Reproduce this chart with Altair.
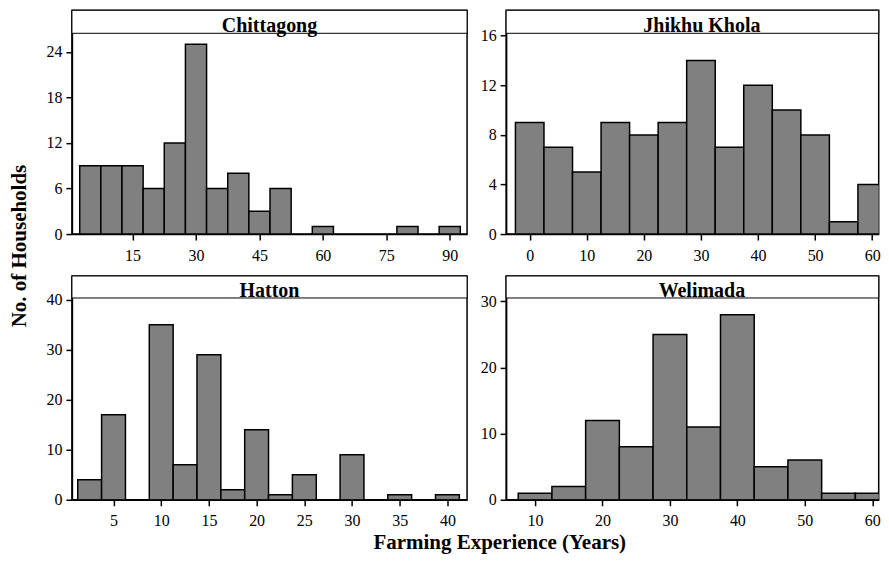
import altair as alt
import pandas as pd

FONT = "Liberation Serif"

# ---- data ----
chit_centers = [5, 10, 15, 20, 25, 30, 35, 40, 45, 50, 60, 80, 90]
chit_counts = [9, 9, 9, 6, 12, 25, 6, 8, 3, 6, 1, 1, 1]

jk_centers = [0, 5, 10, 15, 20, 25, 30, 35, 40, 45, 50, 55, 60]
jk_counts = [9, 7, 5, 9, 8, 9, 14, 7, 12, 10, 8, 1, 4]

hat_centers = [2.5, 5, 10, 12.5, 15, 17.5, 20, 22.5, 25, 30, 35, 40]
hat_counts = [4, 17, 35, 7, 29, 2, 14, 1, 5, 9, 1, 1]

wel_centers = [10, 15, 20, 25, 30, 35, 40, 45, 50, 55, 60]
wel_counts = [1, 2, 12, 8, 25, 11, 28, 5, 6, 1, 1]

panel_names = ["Chittagong", "Jhikhu Khola", "Hatton", "Welimada"]
y_title = "No. of Households"
x_title = "Farming Experience (Years)"

chit_xticks = [15, 30, 45, 60, 75, 90]
jk_xticks = [0, 10, 20, 30, 40, 50, 60]
hat_xticks = [5, 10, 15, 20, 25, 30, 35, 40]
wel_xticks = [10, 20, 30, 40, 50, 60]

chit_yticks = [0, 6, 12, 18, 24]
jk_yticks = [0, 4, 8, 12, 16]
hat_yticks = [0, 10, 20, 30, 40]
wel_yticks = [0, 10, 20, 30]

LW, RW, H = 395.6, 373, 224


def panel(name, centers, counts, bw, xdom, xticks, ydom, yticks, w, strip_h,
          title_x, title_y, extra=None):
    df = pd.DataFrame({
        "start": [c - bw / 2 for c in centers],
        "end": [c + bw / 2 for c in centers],
        "count": counts,
        "base": [0] * len(counts),
    })
    bars = alt.Chart(df).mark_bar(
        fill="#808080", stroke="black", strokeWidth=1.5, clip=True
    ).encode(
        x=alt.X("start:Q", scale=alt.Scale(domain=xdom, nice=False, zero=False),
                axis=alt.Axis(values=xticks, title=None, labelOverlap=False,
                              labelFont=FONT, labelFontSize=16)),
        x2="end:Q",
        y=alt.Y("count:Q", scale=alt.Scale(domain=ydom, nice=False, zero=False),
                axis=alt.Axis(values=yticks, title=None, labelOverlap=False,
                              labelFont=FONT, labelFontSize=16)),
        y2="base:Q",
    )
    lab = pd.DataFrame({"name": [name]})
    strip = alt.Chart(lab).mark_rect(
        fill="white", stroke="black", strokeWidth=1
    ).encode(x=alt.value(0), x2=alt.value(w), y=alt.value(0), y2=alt.value(strip_h))
    txt = alt.Chart(lab).mark_text(
        font=FONT, fontSize=20, fontWeight="bold", baseline="alphabetic",
        align="center", color="black"
    ).encode(x=alt.value(title_x), y=alt.value(title_y), text="name:N")
    layers = [bars, strip, txt]
    if extra is not None:
        layers.append(extra)
    return alt.layer(*layers).properties(width=w, height=H)


ytxt = alt.Chart(pd.DataFrame({"t": [y_title]})).mark_text(
    font=FONT, fontSize=21, fontWeight="bold", angle=270, align="center",
    baseline="middle", color="black"
).encode(x=alt.value(-51.5), y=alt.value(236), text="t:N")

xtxt = alt.Chart(pd.DataFrame({"t": [x_title]})).mark_text(
    font=FONT, fontSize=21, fontWeight="bold", align="center",
    baseline="alphabetic", color="black"
).encode(x=alt.value(428.3), y=alt.value(H + 49), text="t:N")

c1 = panel(panel_names[0], chit_centers, chit_counts, 5, [0.66, 94.1], chit_xticks,
           [0, 29.47], chit_yticks, LW, 23, 197.8, 22, extra=ytxt)
c2 = panel(panel_names[1], jk_centers, jk_counts, 5, [-4.13, 61.14], jk_xticks,
           [0, 18.05], jk_yticks, RW, 23, 196, 22)
c3 = panel(panel_names[2], hat_centers, hat_counts, 2.5, [0.64, 42.06], hat_xticks,
           [0, 44.75], hat_yticks, LW, 22, 197.8, 21, extra=xtxt)
c4 = panel(panel_names[3], wel_centers, wel_counts, 5, [5.71, 60.96], wel_xticks,
           [0, 33.85], wel_yticks, RW, 22, 196, 21)

chart = alt.concat(
    c1, c2, c3, c4, columns=2,
    spacing=alt.RowColnumber(row=42, column=38.7),
    bounds="flush", align="each",
).properties(
    padding={"left": 0, "top": 0, "right": 0, "bottom": 0}
).configure_view(
    stroke="black", strokeWidth=1.5
).configure_axis(
    labelFont=FONT, labelFontSize=16, labelColor="black",
    domainColor="black", domainWidth=1.5, tickColor="black", tickWidth=1.5,
    tickSize=6, grid=False,
).configure_axisX(labelPadding=7).configure_axisY(labelPadding=4)

chart.save("out.html", embed_options={"renderer": "svg", "actions": False})
